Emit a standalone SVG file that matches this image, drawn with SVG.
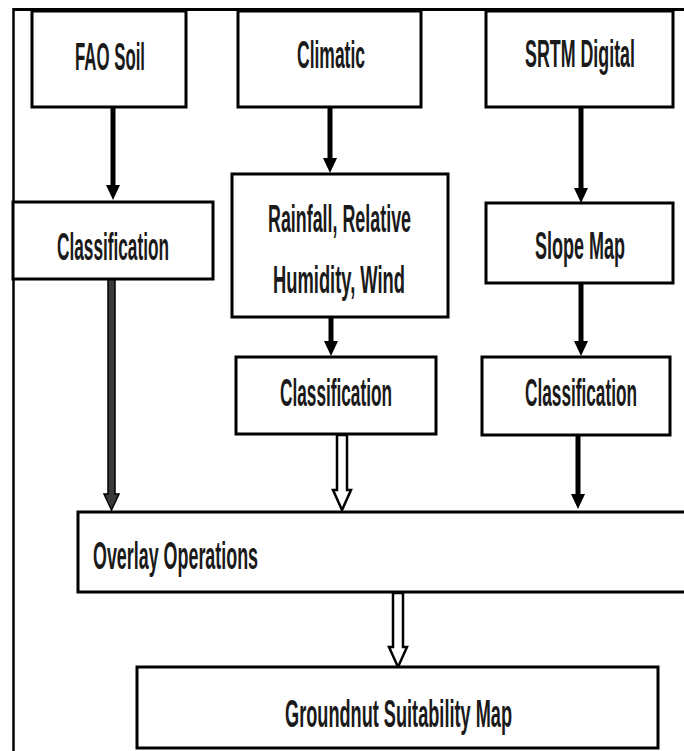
<svg xmlns="http://www.w3.org/2000/svg" width="684" height="751" viewBox="0 0 684 751">
<style>
  .box { fill: #fff; stroke: #000; stroke-width: 3; }
  .lbl { font-family: "Liberation Sans", Arial, sans-serif; font-size: 38px; font-weight: bold; fill: #1a1a1a; text-anchor: middle; }
  .lbll { font-family: "Liberation Sans", Arial, sans-serif; font-size: 38px; font-weight: bold; fill: #1a1a1a; }
  .conn { stroke: #000; stroke-width: 5; fill: none; }
  .hollow { fill: #fff; stroke: #000; stroke-width: 2.5; stroke-linejoin: miter; }
  .frame { stroke: #000; fill: none; }
</style>
<defs>
  <marker id="ah" markerUnits="userSpaceOnUse" markerWidth="16" markerHeight="16" refX="1" refY="7" orient="auto">
    <path d="M0,0 L15,7 L0,14 z" fill="#000"/>
  </marker>
</defs>
<rect width="684" height="751" fill="#fff"/>
<g id="frame">
  <line class="frame" x1="13" y1="9.5" x2="684" y2="9.5" stroke-width="3"/>
  <line class="frame" x1="13.5" y1="8" x2="13.5" y2="751" stroke-width="2.5"/>
</g>
<g id="connectors">
  <line class="conn" x1="113" y1="107" x2="113" y2="186" marker-end="url(#ah)"/>
  <line class="conn" x1="330" y1="107" x2="330" y2="159" marker-end="url(#ah)"/>
  <line class="conn" x1="581" y1="107" x2="581" y2="189" marker-end="url(#ah)"/>
  <line class="conn" x1="331" y1="317" x2="331" y2="342" marker-end="url(#ah)"/>
  <line class="conn" x1="581" y1="283" x2="581" y2="342" marker-end="url(#ah)"/>
  <line class="conn" x1="578" y1="434" x2="578" y2="495" marker-end="url(#ah)"/>
  <polygon points="108,279 115,279 115,494 119,494 111.5,510 104,494 108,494" fill="#3a3a3a" stroke="#000" stroke-width="1.5"/>
  <polygon class="hollow" points="337,435 347,435 347,490 351,490 342,510 333,490 337,490"/>
  <polygon class="hollow" points="393,593 403,593 403,647 407,647 398,667 389,647 393,647"/>
</g>
<g id="fao-soil">
  <rect class="box" x="32" y="11" width="154" height="96"/>
  <text class="lbl" transform="translate(110,70) scale(0.45,1)" textLength="155.6" lengthAdjust="spacingAndGlyphs">FAO Soil</text>
</g>
<g id="climatic">
  <rect class="box" x="238" y="11" width="183" height="96"/>
  <text class="lbl" transform="translate(331,68) scale(0.45,1)" textLength="151.1" lengthAdjust="spacingAndGlyphs">Climatic</text>
</g>
<g id="srtm-digital">
  <rect class="box" x="486" y="11" width="187" height="96"/>
  <text class="lbl" transform="translate(580,67) scale(0.45,1)" textLength="244.4" lengthAdjust="spacingAndGlyphs">SRTM Digital</text>
</g>
<g id="classification-soil">
  <rect class="box" x="13" y="202" width="200" height="77"/>
  <text class="lbl" transform="translate(113,260) scale(0.45,1)" textLength="248.9" lengthAdjust="spacingAndGlyphs">Classification</text>
</g>
<g id="climate-params">
  <rect class="box" x="232" y="174" width="216" height="143"/>
  <text class="lbl" transform="translate(339.5,232) scale(0.45,1)" textLength="317.8" lengthAdjust="spacingAndGlyphs">Rainfall, Relative</text>
  <text class="lbl" transform="translate(339,293) scale(0.45,1)" textLength="293.3" lengthAdjust="spacingAndGlyphs">Humidity, Wind</text>
</g>
<g id="slope-map">
  <rect class="box" x="486" y="203" width="187" height="80"/>
  <text class="lbl" transform="translate(580,259) scale(0.45,1)" textLength="200" lengthAdjust="spacingAndGlyphs">Slope Map</text>
</g>
<g id="classification-climate">
  <rect class="box" x="236" y="357" width="200" height="77"/>
  <text class="lbl" transform="translate(336,406) scale(0.45,1)" textLength="248.9" lengthAdjust="spacingAndGlyphs">Classification</text>
</g>
<g id="classification-slope">
  <rect class="box" x="482" y="357" width="188" height="78"/>
  <text class="lbl" transform="translate(581,406) scale(0.45,1)" textLength="248.9" lengthAdjust="spacingAndGlyphs">Classification</text>
</g>
<g id="overlay">
  <rect class="box" x="78" y="512" width="620" height="80"/>
  <text class="lbll" transform="translate(93,569) scale(0.45,1)" textLength="366.7" lengthAdjust="spacingAndGlyphs">Overlay Operations</text>
</g>
<g id="groundnut">
  <rect class="box" x="137" y="667" width="521" height="81"/>
  <text class="lbl" transform="translate(398.5,727) scale(0.45,1)" textLength="504.4" lengthAdjust="spacingAndGlyphs">Groundnut Suitability Map</text>
</g>
</svg>
